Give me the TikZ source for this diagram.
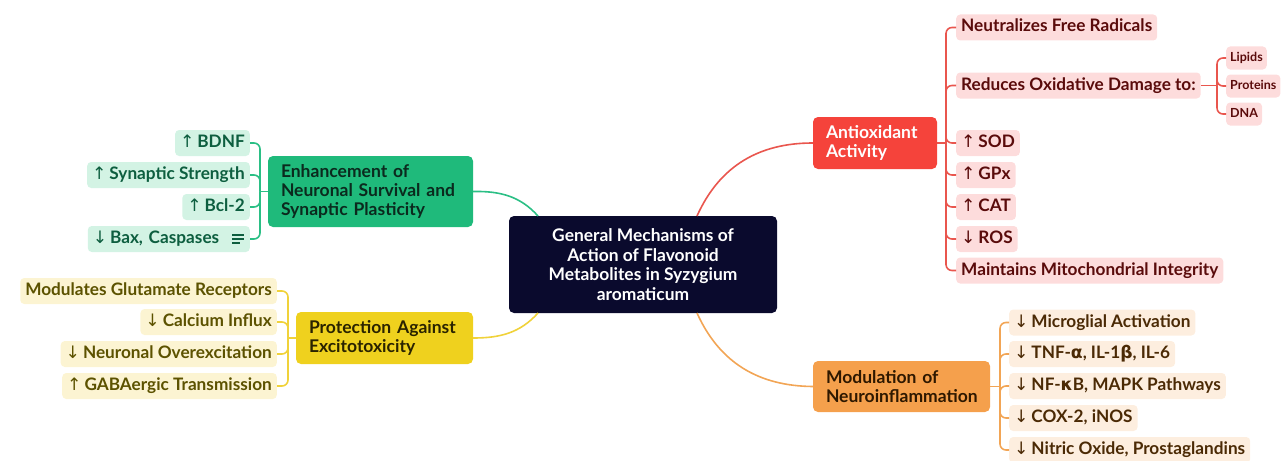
\documentclass[tikz,border=0pt]{standalone}
\usepackage{fontspec}
\setmainfont{Lato}
\newfontfamily\symf{DejaVu Sans}
\newcommand{\upa}{{\symf\mdseries ↑}\,}
\newcommand{\dna}{{\symf\mdseries ↓}\,}
\newcommand{\gk}[1]{{\symf #1}}
\definecolor{navy}{RGB}{10,10,45}
\definecolor{gmain}{RGB}{31,186,123}
\definecolor{gleaf}{RGB}{211,243,228}
\definecolor{gtext}{RGB}{13,94,63}
\definecolor{gline}{RGB}{43,191,133}
\definecolor{ymain}{RGB}{239,209,30}
\definecolor{yleaf}{RGB}{252,244,210}
\definecolor{ytext}{RGB}{92,82,0}
\definecolor{yline}{RGB}{240,210,58}
\definecolor{rmain}{RGB}{245,67,59}
\definecolor{rleaf}{RGB}{253,220,220}
\definecolor{rtext}{RGB}{90,11,11}
\definecolor{rline}{RGB}{233,86,78}
\definecolor{omain}{RGB}{245,160,76}
\definecolor{oleaf}{RGB}{253,238,223}
\definecolor{otext}{RGB}{75,42,5}
\definecolor{oline}{RGB}{242,165,85}
\tikzset{
  leaf/.style={rounded corners=4pt, inner xsep=5pt, minimum height=26pt,
    font=\bfseries\fontsize{17.2}{19}\selectfont, text height=12.5pt, text depth=3.5pt},
  sub/.style={rounded corners=4pt, inner xsep=4pt, minimum height=23pt,
    font=\bfseries\fontsize{12.5}{14}\selectfont, text height=9.5pt, text depth=2.5pt},
  mainbox/.style={rounded corners=5pt, align=left, inner xsep=13pt,
    font=\bfseries\fontsize{17.5}{19}\selectfont},
  conn/.style={line width=1.6pt, rounded corners=6pt},
}
\begin{document}
\begin{tikzpicture}[x=1pt,y=-1pt]
\useasboundingbox (0,0) rectangle (1281,460);
% central
\node[fill=navy, rounded corners=5pt, minimum width=268pt, minimum height=97pt, align=center,
  text=white, font=\bfseries\fontsize{17.4}{19.6}\selectfont] (c) at (643,264.5)
  {General Mechanisms of\\Action of Flavonoid\\Metabolites in Syzygium\\aromaticum};
% main nodes
\node[mainbox, fill=gmain, text={rgb,255:red,11;green,42;blue,30}, text width=179pt, minimum height=71pt] (g) at (370.5,191.5)
  {Enhancement of\\Neuronal Survival and\\Synaptic Plasticity};
\node[mainbox, fill=ymain, text={rgb,255:red,42;green,35;blue,0}, text width=151pt, minimum height=52pt] (y) at (384.5,338)
  {Protection Against\\Excitotoxicity};
\node[mainbox, fill=rmain, text=white, text width=98pt, minimum height=52pt] (r) at (875,143)
  {Antioxidant\\Activity};
\node[mainbox, fill=omain, text={rgb,255:red,46;green,24;blue,0}, text width=151pt, minimum height=51pt] (o) at (901.5,386.5)
  {Modulation of\\Neuroinflammation};
% central connectors
\draw[gline, line width=1.6pt] (538,216) .. controls (520,196) and (500,191) .. (g.east);
\draw[yline, line width=1.6pt] (538,313) .. controls (520,333) and (500,338) .. (y.east);
\draw[rline, line width=1.6pt] (697,216) .. controls (720,165) and (760,143) .. (r.west);
\draw[oline, line width=1.6pt] (697,313) .. controls (720,364) and (760,386) .. (o.west);
% green leaves
\begin{scope}[every node/.style={leaf, fill=gleaf, text=gtext, anchor=east}]
\node (g1) at (250,143) {\upa BDNF};
\node (g2) at (250,175) {\upa Synaptic Strength};
\node (g3) at (250,207) {\upa Bcl-2};
\node[align=left, text width=152pt] (g4) at (250,239) {\dna Bax, Caspases};
\end{scope}
\draw[gtext, line width=1.3pt] (g4.east)++(-18,-4) -- ++(12,0) ++(-12,4) -- ++(12,0) ++(-12,4) -- ++(8,0);
\coordinate (gj) at (260,191.5);
\draw[gline, conn] (g.west) -- (gj);
\foreach \n in {g1,g2,g3,g4} \draw[gline, conn] (gj) |- (\n.east);
% yellow leaves
\begin{scope}[every node/.style={leaf, fill=yleaf, text=ytext, anchor=east}]
\node (y1) at (277,291) {Modulates Glutamate Receptors};
\node (y2) at (277,322) {\dna Calcium Influx};
\node (y3) at (277,354) {\dna Neuronal Overexcitation};
\node (y4) at (277,386) {\upa GABAergic Transmission};
\end{scope}
\coordinate (yj) at (288,338);
\draw[yline, conn] (y.west) -- (yj);
\foreach \n in {y1,y2,y3,y4} \draw[yline, conn] (yj) |- (\n.east);
% red leaves
\begin{scope}[every node/.style={leaf, fill=rleaf, text=rtext, anchor=west}]
\node (r1) at (956,27.5) {Neutralizes Free Radicals};
\node (r2) at (956,85.5) {Reduces Oxidative Damage to:};
\node (r3) at (956,143) {\upa SOD};
\node (r4) at (956,175) {\upa GPx};
\node (r5) at (956,207) {\upa CAT};
\node (r6) at (956,239) {\dna ROS};
\node (r7) at (956,270.5) {Maintains Mitochondrial Integrity};
\end{scope}
\coordinate (rj) at (946,143);
\draw[rline, conn] (r.east) -- (rj);
\foreach \n in {r1,r2,r3,r4,r5,r6,r7} \draw[rline, conn] (rj) |- (\n.west);
\begin{scope}[every node/.style={sub, fill=rleaf, text=rtext, anchor=west}]
\node (s1) at (1226,58) {Lipids};
\node (s2) at (1226,86) {Proteins};
\node (s3) at (1226,114) {DNA};
\end{scope}
\coordinate (sj) at (1217,85.5);
\draw[rline, conn] (r2.east) -- (sj);
\foreach \n in {s1,s2,s3} \draw[rline, conn] (sj) |- (\n.west);
% orange leaves
\begin{scope}[every node/.style={leaf, fill=oleaf, text=otext, anchor=west}]
\node (o1) at (1009,322.5) {\dna Microglial Activation};
\node (o2) at (1009,354) {\dna TNF-\gk{α}, IL-1\gk{β}, IL-6};
\node (o3) at (1009,386) {\dna NF-\gk{κ}B, MAPK Pathways};
\node (o4) at (1009,418) {\dna COX-2, iNOS};
\node (o5) at (1009,450) {\dna Nitric Oxide, Prostaglandins};
\end{scope}
\coordinate (oj) at (1000,386.5);
\draw[oline, conn] (o.east) -- (oj);
\foreach \n in {o1,o2,o3,o4,o5} \draw[oline, conn] (oj) |- (\n.west);
\end{tikzpicture}
\end{document}
